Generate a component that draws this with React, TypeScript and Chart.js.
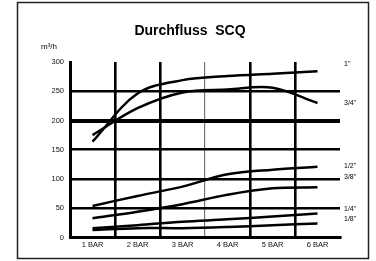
import { useEffect, useRef } from "react";
import { Chart, registerables } from "chart.js";

Chart.register(...registerables);

const categories = ["1 BAR", "2 BAR", "3 BAR", "4 BAR", "5 BAR", "6 BAR"];
const seriesNames = ['1"', '3/4"', '1/2"', '3/8"', '1/4"', '1/8"'];
const s1 = [164, 246, 269, 276, 280, 284];
const s34 = [175, 221, 248, 253, 256, 230];
const s12 = [54, 71, 87, 108, 116, 121];
const s38 = [33, 44, 57, 73, 84, 86];
const s14 = [16, 21, 27, 31, 36, 41];
const s18 = [13, 16, 16, 18, 21, 24];
const labelLevels = [296, 229, 122, 103, 49, 32];
const yMin = 0;
const yMax = 300;
const yStep = 50;
const chartTitle = "Durchfluss  SCQ";
const unitLabel = "m³/h";

const FONT = '"Liberation Sans", Arial, sans-serif';

const decorations = {
  id: "decorations",
  afterDraw(chart: any) {
    const ctx = chart.ctx;
    const y = chart.scales.y;
    const area = chart.chartArea;
    ctx.save();
    // frame
    ctx.strokeStyle = "#222";
    ctx.lineWidth = 1.5;
    ctx.strokeRect(17.5, 2.5, 351, 256);
    // title
    ctx.fillStyle = "#000";
    ctx.font = `bold 14px ${FONT}`;
    ctx.textAlign = "center";
    ctx.textBaseline = "middle";
    ctx.fillText(chartTitle, 190, 31);
    // unit
    ctx.font = `8px ${FONT}`;
    ctx.textAlign = "left";
    ctx.fillText(unitLabel, 41, 47);
    // series labels
    ctx.font = `7px ${FONT}`;
    seriesNames.forEach((n, i) => {
      ctx.fillText(n, area.right + 4, y.getPixelForValue(labelLevels[i]));
    });
    ctx.restore();
  },
};

export default function App() {
  const ref = useRef<HTMLCanvasElement | null>(null);
  useEffect(() => {
    if (!ref.current) return;
    const all = [s1, s34, s12, s38, s14, s18];
    const chart = new Chart(ref.current, {
      type: "line",
      data: {
        labels: categories,
        datasets: all.map((d, i) => ({
          label: seriesNames[i],
          data: d,
          borderColor: "#000",
          backgroundColor: "#000",
          borderWidth: 2.5,
          pointRadius: 0,
          tension: 0.35,
          fill: false,
        })),
      },
      options: {
        animation: false,
        responsive: false,
        devicePixelRatio: 1,
        layout: { padding: { left: 8, right: 36, top: 62, bottom: 4 } },
        plugins: { legend: { display: false }, title: { display: false }, tooltip: { enabled: false } },
        scales: {
          x: {
            offset: true,
            afterFit: (s: any) => {
              s.height = 19.5;
            },
            grid: {
              offset: true,
              drawTicks: false,
              color: (c: any) => (c.type !== "tick" ? "rgba(0,0,0,0)" : c.index === 3 ? "#777" : "#000"),
              lineWidth: (c: any) => (c.index === 3 ? 1.2 : 2.6),
            },
            border: { display: true, color: "#000", width: 3 },
            ticks: { color: "#111", font: { family: FONT, size: 7.5 }, padding: 3, maxRotation: 0 },
          },
          y: {
            min: yMin,
            max: yMax,
            afterFit: (s: any) => {
              s.width = 62;
            },
            grid: {
              drawTicks: false,
              color: (c: any) => (c.tick && c.tick.value === yMax ? "rgba(0,0,0,0)" : "#000"),
              lineWidth: (c: any) => (c.tick && c.tick.value === 200 ? 4 : 2.6),
            },
            border: { display: true, color: "#000", width: 3 },
            ticks: { stepSize: yStep, color: "#111", font: { family: FONT, size: 7.5 }, padding: 6 },
          },
        },
      },
      plugins: [decorations],
    });
    return () => chart.destroy();
  }, []);
  return (
    <div style={{ position: "absolute", left: 0, top: 0, width: 376, height: 261, background: "#fff" }}>
      <canvas ref={ref} width={376} height={261} style={{ display: "block", width: 376, height: 261 }} />
    </div>
  );
}
